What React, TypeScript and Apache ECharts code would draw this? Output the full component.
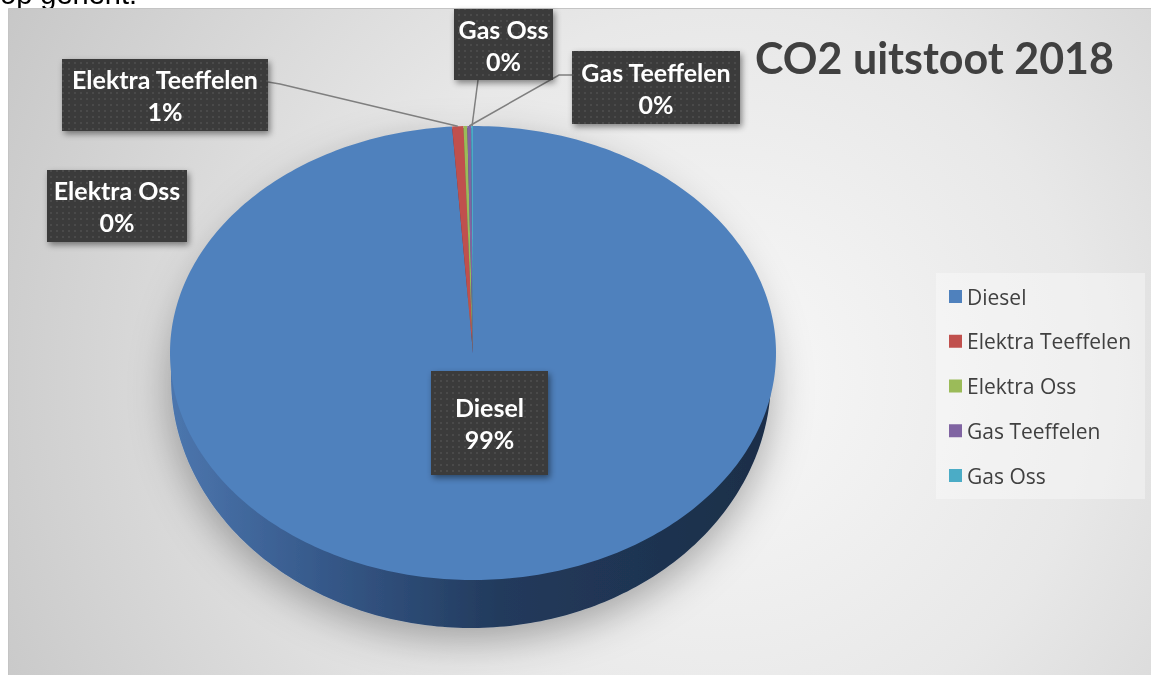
import React, { useEffect, useRef } from 'react';
import * as echarts from 'echarts';

const categories = ['Diesel', 'Elektra Teeffelen', 'Elektra Oss', 'Gas Teeffelen', 'Gas Oss'];
const values = [98.9, 0.6, 0.2, 0.2, 0.1];
const colors = ['#4f81bd', '#c0504d', '#9bbb59', '#8064a2', '#4bacc6'];
const sideColors = ['#2f4f78', '#7a2f2d', '#627a36', '#503e68', '#2e6f80'];
const titleText = 'CO2 uitstoot 2018';
const pageText = 'op gehent.';

// label box layout [x, y, w, h]
const labelBoxes = [
  [431, 371, 117, 104],
  [62, 59, 206, 72],
  [47, 170, 140, 72],
  [572, 51, 168, 73],
  [454, 9, 99, 71],
];
// leader line anchor points (from box towards slice)
const leaderAnchors: (number[][] | null)[] = [
  null,
  [[268, 82], [280, 84]],
  null,
  [[572, 75], [559, 75]],
  [[478, 80]],
];

const TOP = { cx: 473, cy: 353, rx: 303, ry: 227 };
const BOT = { cx: 471, cy: 378, rx: 300, ry: 250 };

export default function App() {
  const ref = useRef<HTMLDivElement>(null);
  useEffect(() => {
    const el = ref.current!;
    const chart = echarts.init(el, null, { renderer: 'svg' });

    const canvas = document.createElement('canvas');
    canvas.width = 6;
    canvas.height = 6;
    const ctx = canvas.getContext('2d')!;
    ctx.fillStyle = '#3b3b3b';
    ctx.fillRect(0, 0, 6, 6);
    ctx.fillStyle = '#4a4a4a';
    ctx.fillRect(2, 2, 2, 2);

    const total = values.reduce((a, b) => a + b, 0);
    const cum = values.map((_, i) => values.slice(0, i).reduce((a, b) => a + b, 0));
    const pt = (e: any, t: number) => [e.cx + e.rx * Math.sin(t), e.cy - e.ry * Math.cos(t)];
    const arc = (e: any, a0: number, a1: number) => {
      const n = Math.max(2, Math.ceil(((a1 - a0) / (2 * Math.PI)) * 360));
      const pts: number[][] = [];
      for (let k = 0; k <= n; k++) pts.push(pt(e, a0 + ((a1 - a0) * k) / n));
      return pts;
    };
    const sideGradient = new echarts.graphic.LinearGradient(171, 0, 771, 0, [
      { offset: 0, color: '#4c76ae' },
      { offset: 0.25, color: '#36598a' },
      { offset: 0.55, color: '#223a5c' },
      { offset: 1, color: '#1c2e48' },
    ], true);

    const renderItem = (params: any, api: any) => {
      const i = params.seriesIndex;
      const v = api.value(0);
      const a0 = (cum[i] / total) * 2 * Math.PI;
      const a1 = ((cum[i] + v) / total) * 2 * Math.PI;
      const mid = (a0 + a1) / 2;
      const children: any[] = [];
      children.push({
        type: 'polygon',
        z2: 1,
        shape: { points: [[BOT.cx, BOT.cy], ...arc(BOT, a0, a1)] },
        style: i === 0
          ? { fill: sideGradient, shadowBlur: 40, shadowColor: 'rgba(0,0,0,0.32)', shadowOffsetY: 12 }
          : { fill: sideColors[i] },
      });
      children.push({
        type: 'polygon',
        z2: 10,
        shape: { points: [[TOP.cx, TOP.cy], ...arc(TOP, a0, a1)] },
        style: { fill: colors[i] },
      });
      const anchors = leaderAnchors[i];
      if (anchors) {
        children.push({
          type: 'polyline',
          z2: 15,
          shape: { points: [...anchors, pt(TOP, mid)] },
          style: { stroke: '#7f7f7f', lineWidth: 1.5, fill: 'none' },
        });
      }
      const [bx, by, bw, bh] = labelBoxes[i];
      children.push({
        type: 'rect',
        z2: 20,
        shape: { x: bx, y: by, width: bw, height: bh },
        style: { fill: '#3b3b3b', shadowBlur: 6, shadowOffsetX: 2, shadowOffsetY: 3, shadowColor: 'rgba(0,0,0,0.45)' },
      });
      children.push({
        type: 'rect',
        z2: 21,
        shape: { x: bx, y: by, width: bw, height: bh },
        style: { fill: { image: canvas, repeat: 'repeat' } },
      });
      const pct = Math.round((v / total) * 100);
      children.push({
        type: 'text',
        z2: 22,
        style: {
          text: `${categories[i]}\n${pct}%`,
          x: bx + bw / 2,
          y: by + bh / 2,
          align: 'center',
          verticalAlign: 'middle',
          fill: '#ffffff',
          fontSize: 25,
          fontWeight: 'bold',
          fontFamily: 'Lato',
          lineHeight: 32,
        },
      });
      return { type: 'group', children };
    };

    chart.setOption({
      animation: false,
      graphic: [
        {
          type: 'text',
          z: -20,
          style: { text: pageText, x: 0, y: -6, verticalAlign: 'middle', fill: '#000', fontSize: 29, fontFamily: 'Liberation Sans' },
        },
        {
          type: 'rect',
          z: -10,
          shape: { x: 8.5, y: 8.5, width: 1150, height: 680 },
          style: {
            fill: new echarts.graphic.RadialGradient(720, 380, 820, [
              { offset: 0, color: '#f8f8f8' },
              { offset: 0.45, color: '#e8e8e8' },
              { offset: 1, color: '#c6c6c6' },
            ], true),
            stroke: '#c4c4c4',
            lineWidth: 1,
          },
        },
        {
          type: 'text',
          z: 5,
          style: { text: titleText, x: 755, y: 57, verticalAlign: 'middle', fill: '#404040', fontSize: 43, fontWeight: 'bold', fontFamily: 'Lato' },
        },
      ],
      legend: {
        orient: 'vertical',
        left: 936,
        top: 273,
        padding: [13, 14, 13, 13],
        itemWidth: 13,
        itemHeight: 13,
        itemGap: 23.75,
        icon: 'rect',
        selectedMode: false,
        backgroundColor: 'rgba(255,255,255,0.35)',
        textStyle: { fontSize: 21, color: '#404040', fontFamily: 'Open Sans', lineHeight: 20 },
        data: categories,
      },
      series: categories.map((name, i) => ({
        type: 'custom',
        name,
        coordinateSystem: 'none',
        renderItem,
        itemStyle: { color: colors[i] },
        data: [[values[i]]],
        z: 2,
      })),
    });
    return () => chart.dispose();
  }, []);
  return <div ref={ref} style={{ position: 'fixed', left: 0, top: 0, width: 1151, height: 675 }} />;
}
